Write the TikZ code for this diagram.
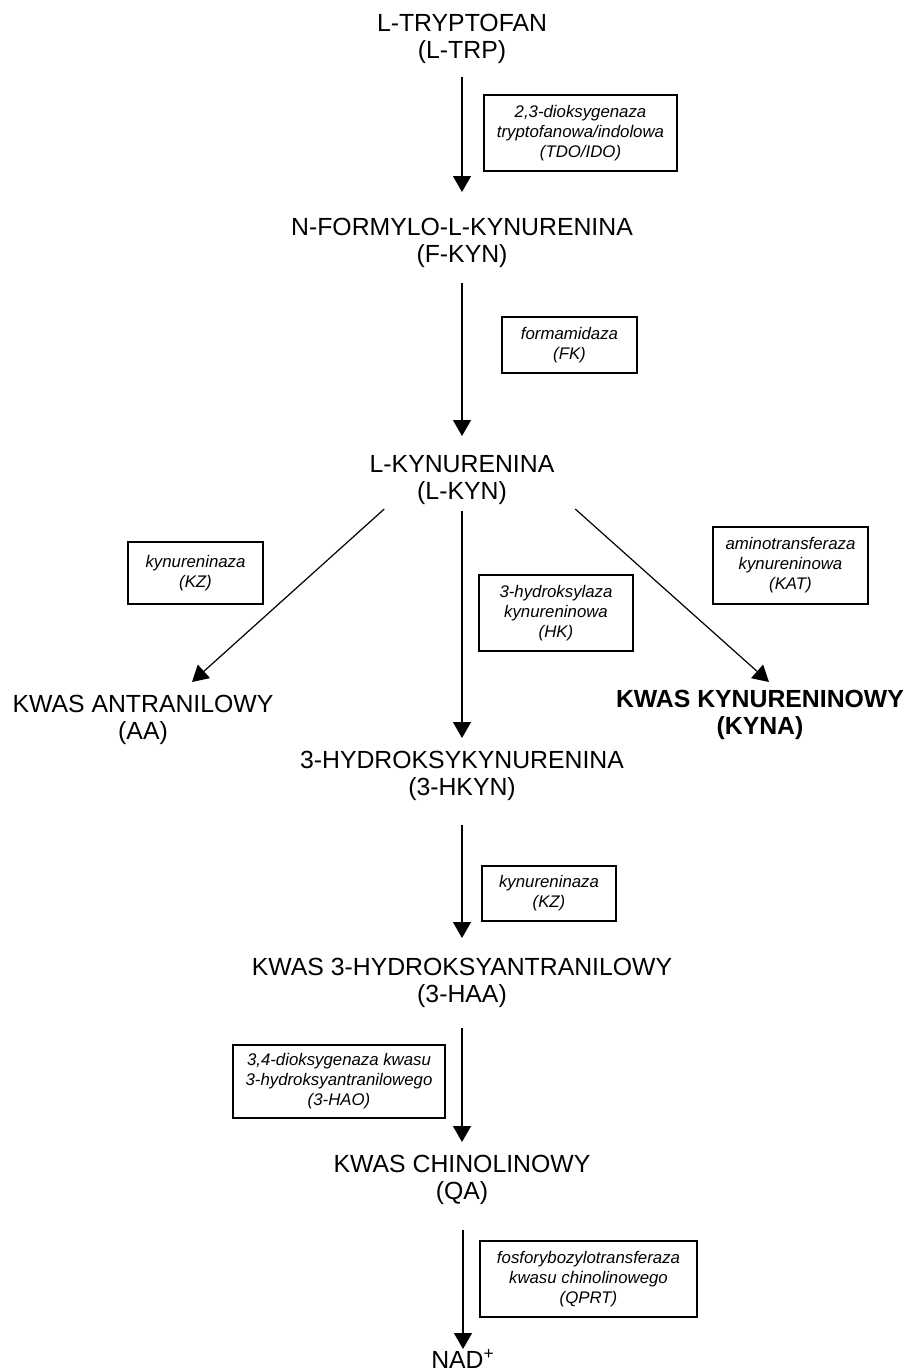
\documentclass[tikz,border=0pt]{standalone}
\usepackage{fontspec}
\setmainfont{Liberation Sans}
\usetikzlibrary{arrows.meta}

\begin{document}
\begin{tikzpicture}[x=0.5pt, y=-0.5pt,
  % Node styles
  compound/.style={
    inner sep=0pt,
    anchor=north,
    align=center,
    font=\fontsize{12.4}{13.5}\selectfont
  },
  enzyme/.style={
    rectangle,
    draw,
    line width=0.8pt,
    inner sep=0pt,
    align=center,
    font=\fontsize{8.4}{10}\selectfont\itshape
  },
  arrow/.style={
    -{Triangle[length=8pt, width=9pt]},
    line width=0.6pt
  }
]
\useasboundingbox (0,0) rectangle (908,1372);

% ===== COMPOUNDS =====
\node[compound] (trp) at (462,14) {L-TRYPTOFAN\\(L-TRP)};
\node[compound] (fkyn) at (462,218) {N-FORMYLO-L-KYNURENINA\\(F-KYN)};
\node[compound] (lkyn) at (462,455) {L-KYNURENINA\\(L-KYN)};
\node[compound] (aa) at (143,695) {KWAS ANTRANILOWY\\(AA)};
\node[compound, font=\fontsize{12.4}{13.5}\selectfont\bfseries] (kyna) at (760,690) {KWAS KYNURENINOWY\\(KYNA)};
\node[compound] (hkyn) at (462,751) {3-HYDROKSYKYNURENINA\\(3-HKYN)};
\node[compound] (haa) at (462,958) {KWAS 3-HYDROKSYANTRANILOWY\\(3-HAA)};
\node[compound] (qa) at (462,1155) {KWAS CHINOLINOWY\\(QA)};
\node[compound] (nad) at (463,1349) {NAD\textsuperscript{+}};

% ===== ENZYMES =====
\node[enzyme, minimum width=96.5pt, minimum height=38pt] (tdo) at (580.5,133) {2,3-dioksygenaza\\tryptofanowa/indolowa\\(TDO/IDO)};
\node[enzyme, minimum width=67.5pt, minimum height=28pt] (fk) at (569.5,345) {formamidaza\\(FK)};
\node[enzyme, minimum width=67.5pt, minimum height=31pt] (kz) at (195.5,573) {kynureninaza\\(KZ)};
\node[enzyme, minimum width=77pt, minimum height=38pt] (hk) at (556,613) {3-hydroksylaza\\kynureninowa\\(HK)};
\node[enzyme, minimum width=77.5pt, minimum height=38.5pt] (kat) at (790.5,565.5) {aminotransferaza\\kynureninowa\\(KAT)};
\node[enzyme, minimum width=67pt, minimum height=27.5pt] (kzb) at (549,893.5) {kynureninaza\\(KZ)};
\node[enzyme, minimum width=106pt, minimum height=36.5pt] (hao) at (339,1081.5) {3,4-dioksygenaza kwasu\\3-hydroksyantranilowego\\(3-HAO)};
\node[enzyme, minimum width=108.5pt, minimum height=38pt] (qprt) at (588.5,1279) {fosforybozylotransferaza\\kwasu chinolinowego\\(QPRT)};

% ===== ARROWS =====
\draw[arrow, shorten <=6.5pt, shorten >=13pt] (trp.south) -- (fkyn.north);
\draw[arrow, shorten <=7.5pt, shorten >=9.5pt] (fkyn.south) -- (lkyn.north);
\draw[arrow, shorten <=3pt, shorten >=6.5pt] (lkyn.south) -- (hkyn.north);
\draw[arrow] ([xshift=7.5pt, yshift=-2pt]lkyn.south west) -- ([xshift=24.5pt, yshift=6.5pt]aa.north);
\draw[arrow] ([xshift=10.25pt, yshift=-2pt]lkyn.south east) -- ([xshift=4.5pt, yshift=4pt]kyna.north);
\draw[arrow, shorten <=12pt, shorten >=10pt] (hkyn.south) -- (haa.north);
\draw[arrow, shorten <=10pt, shorten >=6.5pt] (haa.south) -- (qa.north);
\draw[arrow, shorten <=12.5pt] (qa.south -| nad.north) -- (nad.north);

\end{tikzpicture}
\end{document}
